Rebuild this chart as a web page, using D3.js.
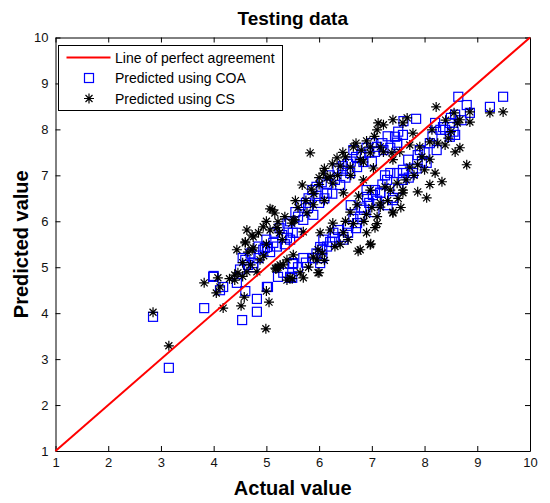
<!DOCTYPE html>
<html>
<head>
<meta charset="utf-8">
<script src="https://cdn.jsdelivr.net/npm/d3@7"></script>
<style>
	body { margin: 0; background: #fff; }
	svg { display: block; font-family: "Liberation Sans", Arial, sans-serif; }
</style>
</head>
<body>
<div id="chart-area"></div>
<script>
// Data: [actual, predicted]
let coaPoints = [
	[2.85, 3.92], [3.15, 2.81], [3.82, 4.11], [3.99, 4.79], [4.0, 4.81], [4.12, 4.5], [4.18, 4.57],
	[4.54, 3.85], [4.82, 4.03], [4.82, 4.31], [5.03, 4.57], [4.6, 4.48], [4.44, 4.66], [5.45, 4.77],
	[5.22, 4.79], [5.5, 5.07],
	[4.6, 5.16], [4.75, 5.09], [4.97, 5.42], [5.07, 5.33], [5.5, 5.09], [5.5, 5.75], [5.6, 6.1],
	[5.01, 4.57], [5.39, 5.64], [5.01, 5.44], [5.13, 5.53], [5.45, 5.6], [5.58, 5.75], [4.94, 5.38],
	[4.75, 5.0], [4.5, 4.95], [4.65, 5.05], [4.85, 5.2], [5.2, 5.45], [5.3, 5.7], [5.35, 5.5],
	[5.87, 6.68], [6.15, 6.62], [5.79, 6.29], [5.89, 6.14], [5.7, 6.03], [6.4, 6.79], [6.59, 7.05],
	[6.72, 7.18], [6.84, 7.29], [7.1, 7.62], [7.35, 7.6], [7.48, 7.71], [6.0, 6.4], [6.1, 6.5],
	[6.25, 6.6], [6.3, 6.9], [6.5, 6.95], [6.6, 7.3], [6.8, 7.45], [6.95, 7.5], [7.2, 7.7],
	[5.95, 6.55], [6.45, 7.1], [7.5, 7.95], [7.6, 8.18], [7.3, 7.85],
	[5.25, 5.85], [5.4, 5.95], [5.55, 6.2], [5.65, 6.35], [5.8, 6.5], [5.95, 6.75], [6.05, 6.85],
	[6.2, 7.0], [6.35, 7.15], [6.55, 7.25], [6.7, 7.4], [6.9, 7.6], [7.0, 7.7], [4.55, 5.2],
	[4.7, 5.3], [4.85, 5.45], [5.0, 5.6], [5.15, 5.75], [5.45, 6.0], [5.75, 6.4], [6.15, 6.8],
	[6.45, 7.2], [6.65, 7.55], [7.0, 7.3],
	[5.51, 5.09], [5.87, 5.2], [6.06, 5.2], [6.06, 5.38], [6.21, 5.55], [6.36, 5.81], [6.46, 5.66],
	[6.72, 5.96], [6.78, 6.1], [6.9, 6.68], [7.02, 6.57], [7.16, 6.62], [7.4, 6.51], [7.35, 7.05],
	[7.59, 6.9], [7.59, 7.05], [5.32, 4.88], [5.45, 4.79], [5.7, 5.2], [5.89, 5.2], [6.02, 5.09],
	[6.02, 5.44], [6.08, 5.6], [6.25, 5.55], [6.46, 5.6], [5.49, 4.77], [6.27, 5.75], [6.55, 5.9],
	[6.65, 6.05], [6.85, 6.25], [6.95, 6.4], [7.1, 6.45],
	[5.6, 5.0], [5.75, 5.1], [5.95, 5.3], [6.15, 5.45], [6.3, 5.65], [6.55, 5.75], [6.7, 5.85],
	[6.8, 6.3], [7.05, 6.2], [7.2, 6.8], [7.3, 6.35], [7.5, 6.7], [7.7, 6.95], [7.85, 7.15],
	[8.0, 7.5], [8.15, 7.85], [8.35, 8.05], [8.5, 8.25], [7.25, 7.0], [6.6, 6.35],
	[8.64, 8.71], [9.49, 8.71], [9.24, 8.49], [8.8, 8.53], [8.86, 8.36], [8.58, 8.32], [7.84, 8.23],
	[8.2, 8.14], [8.3, 7.99], [8.48, 8.14], [8.55, 7.95], [8.58, 7.88], [7.44, 7.84], [7.59, 7.88],
	[7.48, 7.66], [7.22, 7.55], [7.06, 7.51], [7.91, 7.55], [8.23, 7.55], [8.04, 7.27], [7.87, 7.44],
	[7.69, 7.34], [7.78, 7.05], [7.59, 7.12], [7.48, 7.05], [7.29, 6.9], [7.4, 6.46], [7.06, 6.68],
	[6.91, 6.53], [7.16, 6.62], [8.39, 7.99], [8.48, 7.84], [8.1, 7.7], [7.95, 7.3], [8.7, 8.2]
];

let csPoints = [
	[2.85, 4.02], [3.15, 3.29], [3.82, 4.66], [4.08, 4.77], [4.05, 4.44], [4.18, 4.11], [4.52, 4.16],
	[4.58, 4.35], [4.99, 3.66], [5.0, 4.48], [5.05, 4.24], [5.18, 4.96], [5.32, 5.05], [4.12, 4.57],
	[4.4, 4.72], [4.46, 4.88], [4.55, 4.8], [4.82, 4.9], [4.44, 5.38], [4.6, 5.53], [4.75, 5.42],
	[4.88, 5.16], [5.22, 5.0], [5.39, 4.72], [5.51, 5.27], [5.45, 4.77],
	[5.07, 6.27], [5.16, 6.18], [5.22, 5.99], [4.63, 5.81], [4.73, 5.7], [4.6, 5.55], [4.65, 5.33],
	[4.94, 5.88], [5.07, 5.81], [5.2, 5.86], [4.4, 4.83], [4.63, 4.9], [5.2, 4.98], [5.39, 5.16],
	[5.48, 5.96], [5.54, 6.03], [5.11, 6.25], [4.73, 5.38], [4.75, 5.66], [5.3, 5.6], [5.0, 5.5],
	[5.35, 6.1], [5.6, 6.3], [5.85, 6.7], [6.1, 7.15], [6.25, 7.25], [6.45, 7.5], [6.7, 7.7],
	[5.0, 6.0], [4.85, 5.75], [5.25, 5.75], [5.55, 6.45], [6.0, 6.95], [6.4, 7.2], [6.8, 7.55],
	[4.55, 5.1], [4.95, 5.25], [4.3, 4.75], [4.7, 5.05],
	[5.83, 7.49], [6.34, 7.38], [5.68, 6.79], [6.08, 7.05], [6.15, 6.94], [6.26, 6.83], [6.59, 7.18],
	[6.65, 7.62], [6.97, 7.62], [7.22, 7.51], [6.78, 7.34], [5.89, 6.36], [5.77, 6.18], [5.51, 6.03],
	[6.46, 6.62], [6.21, 6.97], [5.9, 6.6], [6.0, 6.8], [6.35, 7.0], [6.5, 7.4], [6.1, 6.45],
	[5.75, 6.45], [6.9, 7.75], [7.05, 7.85], [6.6, 7.0],
	[6.26, 5.96], [6.72, 6.36], [6.59, 6.2], [6.78, 5.38], [6.97, 5.49], [7.06, 5.86], [7.4, 6.2],
	[7.59, 6.62], [7.48, 6.83], [7.16, 6.31], [5.26, 5.05], [5.17, 4.98], [5.64, 4.88], [5.98, 4.88],
	[5.96, 5.16], [6.06, 5.31], [6.21, 5.81], [6.74, 5.35], [6.98, 5.51], [6.0, 4.88], [5.7, 4.77],
	[5.49, 4.75], [5.98, 5.38], [5.89, 5.22], [6.46, 5.75], [6.02, 5.75], [5.7, 5.77], [6.5, 6.0],
	[6.85, 6.0], [6.9, 6.15], [7.0, 6.3], [6.4, 5.5],
	[5.8, 5.0], [6.1, 5.15], [6.3, 5.45], [6.55, 5.6], [6.65, 5.95], [6.9, 5.75], [7.1, 6.1],
	[7.3, 6.45], [7.5, 6.5], [7.65, 6.9], [7.8, 7.0], [7.95, 7.4], [8.1, 7.35], [8.25, 7.7],
	[8.5, 7.95], [8.4, 8.2], [7.25, 6.75], [6.75, 6.55], [7.1, 5.95], [7.55, 6.3], [8.1, 6.8],
	[8.22, 8.49], [8.56, 8.36], [8.86, 8.38], [9.24, 8.36], [9.49, 8.38], [8.86, 8.16], [8.67, 8.21],
	[8.62, 8.14], [8.14, 7.99], [7.78, 7.92], [7.67, 8.25], [7.4, 8.21], [7.12, 8.14], [7.22, 8.1],
	[7.1, 7.99], [7.59, 8.14], [8.45, 7.81], [8.39, 7.66], [8.58, 7.51], [8.67, 7.6], [8.8, 7.23],
	[8.1, 7.73], [7.91, 7.62], [7.72, 7.66], [7.87, 7.23], [8.0, 7.12], [8.2, 7.05], [8.33, 6.86],
	[7.87, 6.64], [8.04, 6.51], [7.59, 6.68], [7.4, 6.18], [7.16, 6.4], [7.35, 6.68], [7.16, 7.62],
	[6.97, 7.49], [6.84, 7.29], [7.03, 7.16], [6.84, 6.9], [6.97, 6.68], [7.38, 7.49], [7.53, 7.51],
	[7.4, 7.34], [7.72, 7.18]
];

let agreementLine = [[1, 1], [10, 10]];
let axisTicks = [1, 2, 3, 4, 5, 6, 7, 8, 9, 10];
let legendLabels = ["Line of perfect agreement", "Predicted using COA", "Predicted using CS"];

let margin = { left: 55.5, right: 20, top: 37.5, bottom: 52 };
let width = 550 - margin.left - margin.right,
	height = 503 - margin.top - margin.bottom;

let svg = d3.select("#chart-area")
	.append("svg")
	.attr("width", 550)
	.attr("height", 503);

let g = svg.append("g")
	.attr("transform", "translate(" + margin.left + "," + margin.top + ")");

// Scales
let x = d3.scaleLinear().domain([1, 10]).range([0, width]);
let y = d3.scaleLinear().domain([1, 10]).range([height, 0]);

// Axes, ticks pointing inward on all four sides
function styleAxis(sel) {
	sel.attr("font-family", null).attr("font-size", null);
	sel.select(".domain").attr("stroke", "#000");
	sel.selectAll(".tick line").attr("stroke", "#000");
	sel.selectAll(".tick text").attr("fill", "#111").style("font-size", "13px");
}

g.append("g")
	.attr("transform", "translate(0," + height + ")")
	.call(d3.axisBottom(x).tickValues(axisTicks).tickSize(-5).tickSizeOuter(0).tickPadding(7))
	.call(styleAxis);

g.append("g")
	.call(d3.axisLeft(y).tickValues(axisTicks).tickSize(-5).tickSizeOuter(0).tickPadding(7))
	.call(styleAxis);

g.append("g")
	.call(d3.axisTop(x).tickValues(axisTicks).tickSize(-5).tickSizeOuter(0).tickFormat(""))
	.call(styleAxis);

g.append("g")
	.attr("transform", "translate(" + width + ",0)")
	.call(d3.axisRight(y).tickValues(axisTicks).tickSize(-5).tickSizeOuter(0).tickFormat(""))
	.call(styleAxis);

// Markers
let sq = 9;
g.append("g").selectAll("rect")
	.data(coaPoints)
	.enter()
	.append("rect")
	.attr("x", (d) => x(d[0]) - sq / 2)
	.attr("y", (d) => y(d[1]) - sq / 2)
	.attr("width", sq)
	.attr("height", sq)
	.attr("fill", "none")
	.attr("stroke", "#0000ff")
	.attr("stroke-width", 1.2);

let starPath = "M-5,0H5M0,-5V5M-3.5,-3.5L3.5,3.5M-3.5,3.5L3.5,-3.5";
g.append("g").selectAll("path")
	.data(csPoints)
	.enter()
	.append("path")
	.attr("transform", (d) => "translate(" + x(d[0]) + "," + y(d[1]) + ")")
	.attr("d", starPath)
	.attr("fill", "none")
	.attr("stroke", "#000")
	.attr("stroke-width", 1.2);

// Line of perfect agreement
g.append("path")
	.datum(agreementLine)
	.attr("d", d3.line().x((d) => x(d[0])).y((d) => y(d[1])))
	.attr("fill", "none")
	.attr("stroke", "#ff0000")
	.attr("stroke-width", 2);

// Labels
svg.append("text")
	.attr("x", margin.left + width / 2)
	.attr("y", 25)
	.attr("text-anchor", "middle")
	.attr("font-size", "19px")
	.attr("font-weight", "bold")
	.text("Testing data");

svg.append("text")
	.attr("x", margin.left + width / 2)
	.attr("y", 495)
	.attr("text-anchor", "middle")
	.attr("font-size", "20px")
	.attr("font-weight", "bold")
	.text("Actual value");

svg.append("text")
	.attr("transform", "rotate(-90)")
	.attr("x", -(margin.top + height / 2))
	.attr("y", 28)
	.attr("text-anchor", "middle")
	.attr("font-size", "20px")
	.attr("font-weight", "bold")
	.text("Predicted value");

// Legend
let legend = svg.append("g")
	.attr("transform", "translate(58.5,45.5)");

legend.append("rect")
	.attr("width", 224)
	.attr("height", 65)
	.attr("fill", "#fff")
	.attr("stroke", "#000");

legendLabels.forEach((label, index) => {
	let row = legend.append("g")
		.attr("transform", "translate(0," + (12 + index * 20.5) + ")");

	if (index === 0) {
		row.append("line")
			.attr("x1", 8).attr("x2", 52)
			.attr("stroke", "#ff0000")
			.attr("stroke-width", 2);
	} else if (index === 1) {
		row.append("rect")
			.attr("x", 30.5 - sq / 2).attr("y", -sq / 2)
			.attr("width", sq).attr("height", sq)
			.attr("fill", "none")
			.attr("stroke", "#0000ff")
			.attr("stroke-width", 1.2);
	} else {
		row.append("path")
			.attr("transform", "translate(30.5,0)")
			.attr("d", starPath)
			.attr("stroke", "#000")
			.attr("stroke-width", 1.2);
	}

	row.append("text")
		.attr("x", 56.5)
		.attr("y", 5)
		.attr("font-size", "14px")
		.text(label);
});
</script>
</body>
</html>
